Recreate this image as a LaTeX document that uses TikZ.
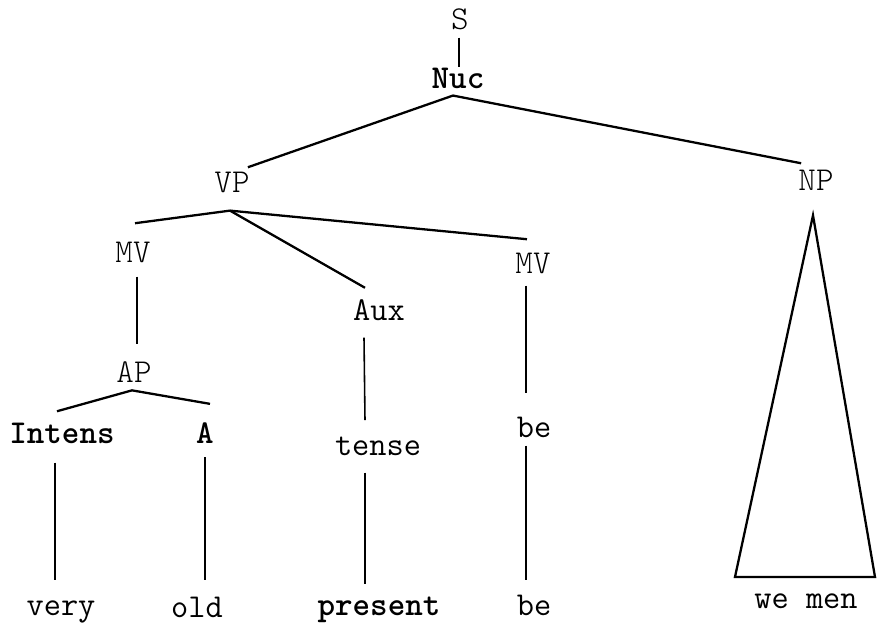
\documentclass[tikz,border=0pt]{standalone}
\usepackage{tikz}

\tikzset{
  lbl/.style={font={\fontsize{19}{22}\selectfont\ttfamily}, inner sep=0pt, anchor=base},
  thinlbl/.style={lbl, font={\fontsize{19}{22}\selectfont\ttfamily\fontseries{l}\selectfont}},
  darklbl/.style={lbl, font={\fontsize{19}{22}\selectfont\ttfamily\bfseries}},
  arm/.style={line width=1.3pt},
  stem/.style={line width=0.9pt}
}

\begin{document}
\begin{tikzpicture}[x=0.02cm, y=-0.02cm]
        \useasboundingbox (0,0) rectangle (877,623);
        % labels
        \node[thinlbl] (s) at (460,29) {S};
        \node[darklbl] (nuc) at (458,88) {Nuc};
        \node[thinlbl] (vp) at (232,192) {VP};
        \node[thinlbl] (np) at (816,190) {NP};
        \node[thinlbl] (mvl) at (133,262) {MV};
        \node[lbl] (aux) at (379,320) {Aux};
        \node[thinlbl] (mvr) at (533,273) {MV};
        \node[thinlbl] (ap) at (134,382) {AP};
        \node[darklbl] (intens) at (62,443) {Intens};
        \node[darklbl] (a) at (205,443) {A};
        \node[lbl] (tense) at (378,455) {tense};
        \node[lbl] (be) at (534,437) {be};
        \node[lbl] (very) at (61,615) {very};
        \node[lbl] (old) at (197,617) {old};
        \node[darklbl] (present) at (379,615) {present};
        \node[lbl] (be2) at (534,615) {be};
        \node[lbl] (wemen) at (806,608) {we men};
        % forks
        \coordinate (nucfork) at ([shift={(-5,7)}]nuc.south);
        \coordinate (vpfork) at ([shift={(-2,18)}]vp.south);
        \coordinate (apfork) at ([shift={(-2,8)}]ap.south);
        % S to Nuc
        \draw[stem] ([shift={(-1,8)}]s.south) -- ([shift={(1,0)}]nuc.north);
        % Nuc
        \draw[arm] ([shift={(-2,-4)}]vp.north east) -- (nucfork) -- ([shift={(3,-6)}]np.north west);
        % VP
        \draw[arm] ([shift={(2,-18)}]mvl.north) -- (vpfork) -- ([shift={(-6,-13)}]mvr.north);
        \draw[arm] (vpfork) -- ([shift={(-14,-11)}]aux.north);
        % AP
        \draw[arm] ([shift={(-5,-11)}]intens.north) -- (apfork) -- ([shift={(5,-18)}]a.north);
        % stems
        \draw[stem] ([shift={(4,14)}]mvl.south) -- ([shift={(3,-17)}]ap.north);
        \draw[stem] ([shift={(-7,19)}]intens.south) -- ([shift={(-6,-20)}]very.north);
        \draw[stem] ([shift={(0,14)}]a.south) -- ([shift={(8,-16)}]old.north);
        \draw[stem] ([shift={(-15,17)}]aux.south) -- ([shift={(-13,-16)}]tense.north);
        \draw[stem] ([shift={(-13,17)}]tense.south) -- ([shift={(-14,-12)}]present.north);
        \draw[stem] ([shift={(-7,12)}]mvr.south) -- ([shift={(-8,-23)}]be.north);
        \draw[stem] ([shift={(-8,8)}]be.south) -- ([shift={(-8,-14)}]be2.north);
        % NP triangle
        \coordinate (tritop) at ([shift={(-3,25)}]np.south);
        \coordinate (trileft) at ([shift={(-71,-16)}]wemen.north);
        \coordinate (triright) at ([shift={(69,-16)}]wemen.north);
        \draw[arm, line join=miter] (tritop) -- (trileft) -- (triright) -- cycle;
\end{tikzpicture}
\end{document}
